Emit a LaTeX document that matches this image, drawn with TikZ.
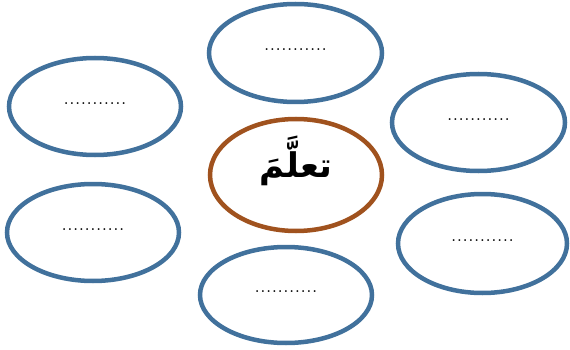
\documentclass[tikz,border=0pt]{standalone}
\usepackage{fontspec}
\TeXXeTstate=1
\newfontfamily\arabicfont[Script=Arabic]{DejaVu Sans}
\usetikzlibrary{shapes.geometric}
\definecolor{ringblue}{RGB}{65,113,156}
\definecolor{ringbrown}{RGB}{160,82,30}
\begin{document}
\begin{tikzpicture}[x=1pt,y=-1pt,
  ring/.style={ellipse,draw=ringblue,line width=4.5pt,fill=white,inner sep=0pt},
  hub/.style={ellipse,draw=ringbrown,line width=4.5pt,fill=white,inner sep=0pt},
  dots/.style={font=\fontsize{23}{24}\selectfont}]
\useasboundingbox (0,0) rectangle (570,350);
\node[ring,minimum width=173pt,minimum height=98pt] (top) at (295.5,53) {};
\node[ring,minimum width=172pt,minimum height=97pt] (lu) at (95,106.5) {};
\node[ring,minimum width=173pt,minimum height=97pt] (ru) at (478.5,122.5) {};
\node[hub,minimum width=172pt,minimum height=112pt] (hub) at (296,175) {};
\node[ring,minimum width=172pt,minimum height=97pt] (ll) at (93,232.5) {};
\node[ring,minimum width=169pt,minimum height=99pt] (rl) at (482.5,243.5) {};
\node[ring,minimum width=172pt,minimum height=96pt] (bot) at (286,295) {};
\node[dots] (ttop) at ([yshift=3pt]top.center) {...........};
\node[dots] (tlu) at ([yshift=3pt]lu.center) {...........};
\node[dots] (tru) at ([yshift=3pt]ru.center) {...........};
\node[dots] (tll) at ([yshift=3pt]ll.center) {...........};
\node[dots] (trl) at ([yshift=3pt]rl.center) {...........};
\node[dots] (tbot) at ([yshift=3pt]bot.center) {...........};
\node[font=\fontsize{34}{38}\selectfont\bfseries\arabicfont] (word) at ([yshift=14pt]hub.center) {\beginR تعلَّمَ\endR};
\end{tikzpicture}
\end{document}
